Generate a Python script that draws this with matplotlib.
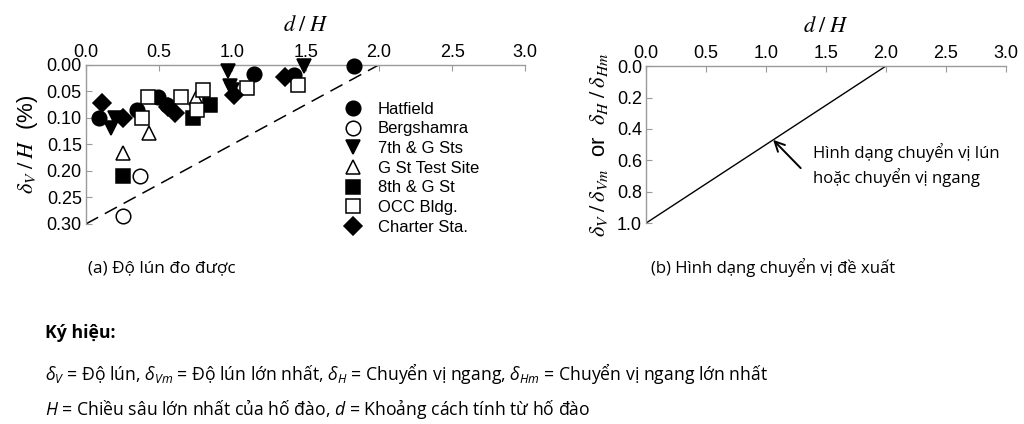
import matplotlib
matplotlib.use('Agg')
import matplotlib.pyplot as plt
import numpy as np

# ================= DATA =================
# (a) measured settlement, d/H vs dV/H (%)
hatfield_x = [0.09, 0.35, 0.49, 0.55, 1.15, 1.42, 1.83]
hatfield_y = [0.100, 0.085, 0.060, 0.075, 0.017, 0.019, 0.002]

bergshamra_x = [0.37, 0.25]
bergshamra_y = [0.210, 0.285]

sts7_x = [0.20, 0.17, 0.97, 0.98, 1.00, 1.49]
sts7_y = [0.100, 0.120, 0.012, 0.040, 0.047, 0.003]

gst_test_x = [0.25, 0.43, 0.75]
gst_test_y = [0.167, 0.129, 0.063]

st8_x = [0.25, 0.73, 0.85]
st8_y = [0.210, 0.100, 0.075]

occ_x = [0.42, 0.38, 0.65, 0.76, 0.80, 1.10, 1.45]
occ_y = [0.060, 0.100, 0.060, 0.085, 0.048, 0.044, 0.038]

charter_x = [0.11, 0.25, 0.56, 0.61, 1.01, 1.36]
charter_y = [0.071, 0.100, 0.079, 0.091, 0.057, 0.023]

# envelope (dashed) and proposed shape (solid)
envelope_x = [0.0, 2.0]
envelope_y = [0.30, 0.00]
shape_x = [0.0, 2.0]
shape_y = [1.0, 0.0]

xticks = [0.0, 0.5, 1.0, 1.5, 2.0, 2.5, 3.0]
yticks_a = [0.00, 0.05, 0.10, 0.15, 0.20, 0.25, 0.30]
yticks_b = [0.0, 0.2, 0.4, 0.6, 0.8, 1.0]

series = [
    ('Hatfield', hatfield_x, hatfield_y, 'o', 'black'),
    ('Bergshamra', bergshamra_x, bergshamra_y, 'o', 'white'),
    ('7th & G Sts', sts7_x, sts7_y, 'v', 'black'),
    ('G St Test Site', gst_test_x, gst_test_y, '^', 'white'),
    ('8th & G St', st8_x, st8_y, 's', 'black'),
    ('OCC Bldg.', occ_x, occ_y, 's', 'white'),
    ('Charter Sta.', charter_x, charter_y, 'D', 'black'),
]
# =========================================

text_font = 'Open Sans'
plt.rcParams['mathtext.fontset'] = 'custom'
plt.rcParams['mathtext.rm'] = text_font
plt.rcParams['mathtext.it'] = text_font + ':italic'

axis_font = 'Liberation Sans'
spine_color = '#9a9a9a'


def style_axes(ax, yticks, yfmt):
    for side in ['right', 'bottom']:
        ax.spines[side].set_visible(False)
    for side in ['top', 'left']:
        ax.spines[side].set_color(spine_color)
        ax.spines[side].set_linewidth(1.0)
    ax.xaxis.tick_top()
    ax.set_xlim(0, 3.0)
    ax.set_xticks(xticks)
    ax.set_xticklabels(['%.1f' % v for v in xticks], fontfamily=axis_font, fontsize=13)
    ax.set_yticks(yticks)
    ax.set_yticklabels([yfmt % v for v in yticks], fontfamily=axis_font, fontsize=13)
    ax.set_ylim(yticks[-1], yticks[0])
    ax.tick_params(axis='both', direction='in', length=4, color=spine_color, pad=3)
    ax.set_xlabel(r'$d\;/\;H$', fontsize=16, math_fontfamily='stix', labelpad=9)
    ax.xaxis.set_label_position('top')


fig = plt.figure(figsize=(10.24, 4.24), dpi=100)

# ---------- (a) ----------
ax1 = fig.add_axes([0.084, 0.472, 0.429, 0.375])
style_axes(ax1, yticks_a, '%.2f')
ax1.plot(envelope_x, envelope_y, color='black', lw=1.1, dashes=(9, 5), zorder=2)
for label, xs, ys, mk, fc in series:
    ms = 10.5 if mk in ('o', 'v', '^') else 9.5
    if mk == 'D':
        ms = 9
    ax1.plot(xs, ys, linestyle='none', marker=mk, markersize=ms, markerfacecolor=fc,
             markeredgecolor='black', markeredgewidth=1.1, label=label,
             clip_on=False, zorder=3)
ax1.set_ylabel(r'$\delta_V\;/\;H$  (%)', fontsize=16, fontfamily=axis_font,
               math_fontfamily='stix', labelpad=5)
leg = ax1.legend(loc='upper left', bbox_to_anchor=(0.57, 0.81), frameon=False,
                 prop={'family': axis_font, 'size': 12}, labelspacing=0.28,
                 handletextpad=0.9, borderaxespad=0, handlelength=1.2)

# ---------- (b) ----------
ax2 = fig.add_axes([0.631, 0.474, 0.351, 0.370])
style_axes(ax2, yticks_b, '%.1f')
ax2.plot(shape_x, shape_y, color='black', lw=1.0, zorder=2)
ax2.set_ylabel(r'$\delta_V\;/\;\delta_{Vm}$  or  $\delta_H\;/\;\delta_{Hm}$', fontsize=16,
               fontfamily=axis_font, math_fontfamily='stix', labelpad=5)
ax2.annotate('', xy=(1.06, 0.47), xytext=(1.29, 0.65),
             arrowprops=dict(arrowstyle='->,head_length=0.7,head_width=0.35',
                             color='black', lw=1.4, shrinkA=0, shrinkB=0))
ax2.text(1.39, 0.63, 'Hình dạng chuyển vị lún\nhoặc chuyển vị ngang',
         fontfamily=text_font, fontsize=12, va='center', ha='left', linespacing=1.4)

# ---------- captions ----------
fig.text(0.086, 1 - 268 / 424, '(a) Độ lún đo được', fontfamily=text_font,
         fontsize=12.3, va='center', ha='left')
fig.text(0.636, 1 - 268 / 424, '(b) Hình dạng chuyển vị đề xuất', fontfamily=text_font,
         fontsize=12, va='center', ha='left')

fig.text(0.044, 1 - 333 / 424, 'Ký hiệu:', fontfamily=text_font, fontsize=12.7,
         fontweight='bold', va='center', ha='left')
fig.text(0.044, 1 - 373 / 424,
         r'$\delta_V$ = Độ lún, $\delta_{Vm}$ = Độ lún lớn nhất, '
         r'$\delta_H$ = Chuyển vị ngang, $\delta_{Hm}$ = Chuyển vị ngang lớn nhất',
         fontfamily=text_font, fontsize=12.7, va='center', ha='left')
fig.text(0.044, 1 - 409 / 424,
         r'$H$ = Chiều sâu lớn nhất của hố đào, $d$ = Khoảng cách tính từ hố đào',
         fontfamily=text_font, fontsize=12.7, va='center', ha='left')

fig.savefig('out.png', dpi=100)
